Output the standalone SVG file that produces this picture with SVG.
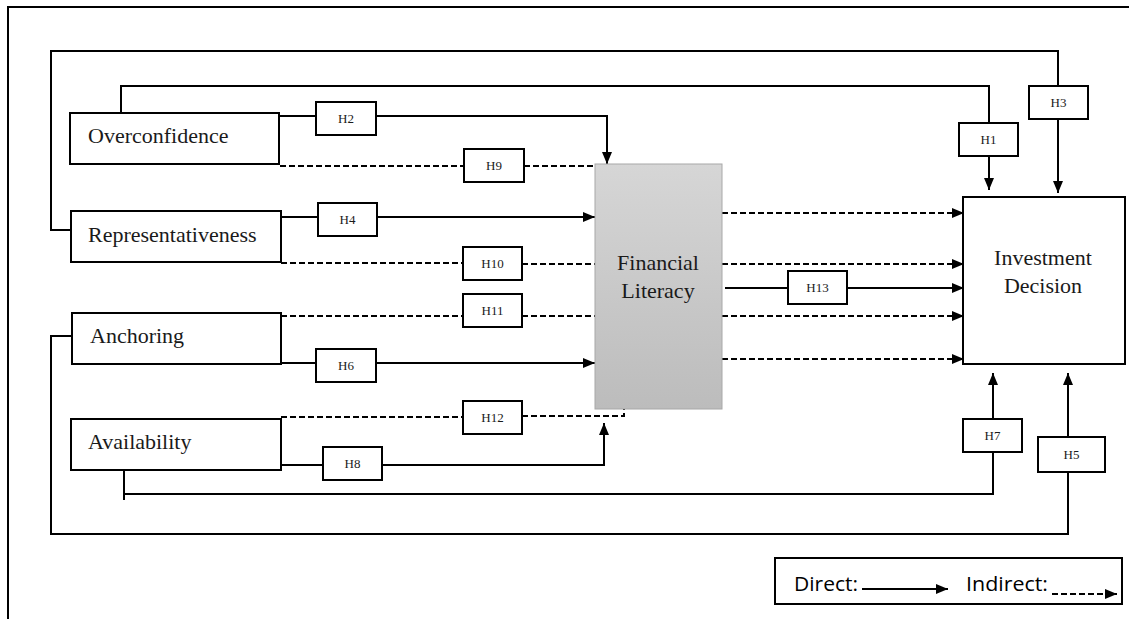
<svg xmlns="http://www.w3.org/2000/svg" width="1129" height="619" viewBox="0 0 1129 619">
<style>
.box{fill:#fff;stroke:#000;stroke-width:2}
.hbox{fill:#fff;stroke:#000;stroke-width:2}
.lbl{font-family:"Liberation Serif","Times New Roman",serif;font-size:22px;fill:#1a1a1a}
.h{font-family:"Liberation Serif","Times New Roman",serif;font-size:13px;fill:#1a1a1a;text-anchor:middle}
.ln{fill:none;stroke:#000;stroke-width:2}
.ds{fill:none;stroke:#000;stroke-width:2;stroke-dasharray:6 3}
.leg{font-family:"Open Sans","Noto Sans","Liberation Sans",sans-serif;font-size:20px;fill:#000}
</style>
<defs>
<marker id="ah" viewBox="0 0 12 10" refX="12" refY="5" markerWidth="12" markerHeight="10" markerUnits="userSpaceOnUse" orient="auto">
<path d="M0,0 L12,5 L0,10 z" fill="#000"/>
</marker>
<linearGradient id="flg" x1="0" y1="0" x2="0" y2="1">
<stop offset="0" stop-color="#d6d6d6"/>
<stop offset="1" stop-color="#bcbcbc"/>
</linearGradient>
</defs>
<rect width="1129" height="619" fill="#fff"/>
<path d="M8,619 V7 H1129" fill="none" stroke="#000" stroke-width="2"/>

<g id="connectors">
<path class="ln" d="M72,230 H51 V51 H1058 V86"/>
<path class="ln" d="M1058,119 V193" marker-end="url(#ah)"/>
<path class="ln" d="M121,113 V86 H989 V123"/>
<path class="ln" d="M989,156 V190" marker-end="url(#ah)"/>
<path class="ln" d="M279,116 H316"/>
<path class="ln" d="M376,116 H607 V164" marker-end="url(#ah)"/>
<path class="ds" d="M280,166 H464"/>
<path class="ds" d="M524,166 H595"/>
<path class="ln" d="M281,217 H318"/>
<path class="ln" d="M377,217 H595" marker-end="url(#ah)"/>
<path class="ds" d="M281,263 H463"/>
<path class="ds" d="M522,264 H595"/>
<path class="ds" d="M281,316 H463"/>
<path class="ds" d="M522,316 H595"/>
<path class="ln" d="M281,363 H316"/>
<path class="ln" d="M376,363 H595" marker-end="url(#ah)"/>
<path class="ds" d="M281,417 H463"/>
<path class="ds" d="M522,416 H624 V409"/>
<path class="ln" d="M281,465 H323"/>
<path class="ln" d="M382,465 H604 V423" marker-end="url(#ah)"/>
<path class="ln" d="M124,470 V500 M124,494 H993 V452"/>
<path class="ln" d="M993,419 V373" marker-end="url(#ah)"/>
<path class="ln" d="M72,336 H51 V534 H1068 V472"/>
<path class="ln" d="M1068,437 V373" marker-end="url(#ah)"/>
<path class="ds" d="M722,213 H964" marker-end="url(#ah)"/>
<path class="ds" d="M722,264 H964" marker-end="url(#ah)"/>
<path class="ln" d="M725,288 H788"/>
<path class="ln" d="M847,288 H964" marker-end="url(#ah)"/>
<path class="ds" d="M722,316 H964" marker-end="url(#ah)"/>
<path class="ds" d="M722,359 H964" marker-end="url(#ah)"/>
</g>

<g id="overconfidence"><rect class="box" x="70" y="113" width="209" height="51"/><text class="lbl" x="88" y="143">Overconfidence</text></g>
<g id="representativeness"><rect class="box" x="71" y="211" width="210" height="51"/><text class="lbl" x="88" y="242">Representativeness</text></g>
<g id="anchoring"><rect class="box" x="72" y="313" width="209" height="51"/><text class="lbl" x="90" y="343">Anchoring</text></g>
<g id="availability"><rect class="box" x="71" y="419" width="210" height="51"/><text class="lbl" x="88" y="449">Availability</text></g>

<g id="financial-literacy"><rect x="595" y="164" width="127" height="245" fill="url(#flg)" stroke="#a8a8a8" stroke-width="1"/>
<text class="lbl" x="658" y="270" text-anchor="middle">Financial</text>
<text class="lbl" x="658" y="298" text-anchor="middle">Literacy</text></g>

<g id="investment-decision"><rect class="box" x="963" y="197" width="162" height="167"/>
<text class="lbl" x="1043" y="265" text-anchor="middle">Investment</text>
<text class="lbl" x="1043" y="293" text-anchor="middle">Decision</text></g>

<g id="h1"><rect class="hbox" x="959" y="123" width="59" height="33"/><text class="h" x="988.5" y="144">H1</text></g>
<g id="h2"><rect class="hbox" x="316" y="102" width="60" height="33"/><text class="h" x="346" y="123">H2</text></g>
<g id="h3"><rect class="hbox" x="1029" y="86" width="59" height="33"/><text class="h" x="1058.5" y="107">H3</text></g>
<g id="h4"><rect class="hbox" x="318" y="203" width="59" height="33"/><text class="h" x="347.5" y="224">H4</text></g>
<g id="h5"><rect class="hbox" x="1038" y="437" width="67" height="35"/><text class="h" x="1071.5" y="459">H5</text></g>
<g id="h6"><rect class="hbox" x="316" y="349" width="60" height="33"/><text class="h" x="346" y="370">H6</text></g>
<g id="h7"><rect class="hbox" x="963" y="419" width="59" height="33"/><text class="h" x="992.5" y="440">H7</text></g>
<g id="h8"><rect class="hbox" x="323" y="447" width="59" height="33"/><text class="h" x="352.5" y="468">H8</text></g>
<g id="h9"><rect class="hbox" x="464" y="149" width="60" height="33"/><text class="h" x="494" y="170">H9</text></g>
<g id="h10"><rect class="hbox" x="463" y="247" width="59" height="33"/><text class="h" x="492.5" y="268">H10</text></g>
<g id="h11"><rect class="hbox" x="463" y="294" width="59" height="33"/><text class="h" x="492.5" y="315">H11</text></g>
<g id="h12"><rect class="hbox" x="463" y="401" width="59" height="33"/><text class="h" x="492.5" y="422">H12</text></g>
<g id="h13"><rect class="hbox" x="788" y="271" width="59" height="33"/><text class="h" x="817.5" y="292">H13</text></g>

<g id="legend">
<rect class="box" x="775" y="558" width="347" height="46"/>
<text class="leg" x="794" y="591" textLength="64" lengthAdjust="spacingAndGlyphs">Direct:</text>
<path class="ln" d="M862,589 H948" marker-end="url(#ah)"/>
<text class="leg" x="966" y="591" textLength="82" lengthAdjust="spacingAndGlyphs">Indirect:</text>
<path class="ds" d="M1052,594 H1117" marker-end="url(#ah)"/>
</g>
</svg>
